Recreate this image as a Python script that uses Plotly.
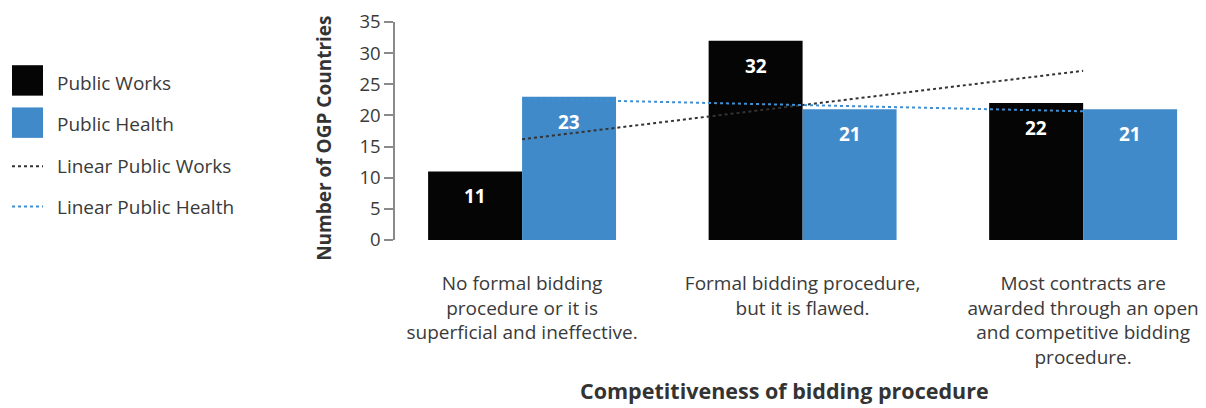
import numpy as np
import plotly.graph_objects as go

# Data
categories = [
    "No formal bidding<br>procedure or it is<br>superficial and ineffective.",
    "Formal bidding procedure,<br>but it is flawed.",
    "Most contracts are<br>awarded through an open<br>and competitive bidding<br>procedure.",
]
public_works = [11, 32, 22]
public_health = [23, 21, 21]
y_ticks = [0, 5, 10, 15, 20, 25, 30, 35]

BLACK = "#050505"
BLUE = "#418AC9"
TEXT = "#3a3a3a"
FONT = "Open Sans"
BARGAP = 0.33

x = np.arange(len(categories))

# linear trendlines (least squares, like Excel's "Linear" trendline)
works_fit = np.polyval(np.polyfit(x, public_works, 1), x)
health_fit = np.polyval(np.polyfit(x, public_health, 1), x)

fig = go.Figure()

fig.add_trace(go.Bar(
    x=x, y=public_works, name="Public Works",
    marker=dict(color=BLACK, line=dict(width=0)),
))
fig.add_trace(go.Bar(
    x=x, y=public_health, name="Public Health",
    marker=dict(color=BLUE, line=dict(width=0)),
))
fig.add_trace(go.Scatter(
    x=x, y=works_fit, mode="lines", name="Linear Public Works",
    line=dict(color="#333333", width=2, dash="dot"),
))
fig.add_trace(go.Scatter(
    x=x, y=health_fit, mode="lines", name="Linear Public Health",
    line=dict(color="#3F8FD2", width=2, dash="dot"),
))

# page has an 8px body margin, so the figure is 8px smaller than the window
OFF = 8
W, H = 1206 - OFF, 408 - OFF
L, R, T, B = 395 - OFF, 0, 18 - OFF, 408 - 240


def px(xp):
    # page pixel -> paper x
    return (xp - OFF - L) / (W - L - R)


def py(yp):
    # page pixel -> paper y
    return 1 - (yp - OFF - T) / (H - T - B)


# hand-made legend on the left
shapes = [
    dict(type="rect", xref="paper", yref="paper", x0=px(12), x1=px(43),
         y0=py(93), y1=py(62), fillcolor=BLACK, line=dict(width=0)),
    dict(type="rect", xref="paper", yref="paper", x0=px(12), x1=px(43),
         y0=py(136), y1=py(105), fillcolor=BLUE, line=dict(width=0)),
    dict(type="line", xref="paper", yref="paper", x0=px(12), x1=px(43),
         y0=py(165), y1=py(165), line=dict(color="#333333", width=2, dash="dot")),
    dict(type="line", xref="paper", yref="paper", x0=px(12), x1=px(43),
         y0=py(206), y1=py(206), line=dict(color="#3F8FD2", width=2, dash="dot")),
]
legend_labels = ["Public Works", "Public Health", "Linear Public Works", "Linear Public Health"]
legend_y = [80, 122, 165, 206]
annotations = [
    dict(text=t, xref="paper", yref="paper", x=px(55), y=py(yy),
         xanchor="left", yanchor="middle", showarrow=False,
         font=dict(family=FONT, size=19, color=TEXT))
    for t, yy in zip(legend_labels, legend_y)
]

# axis titles as annotations so they sit where the reference puts them
annotations.append(dict(
    text="<b>Number of OGP Countries</b>", xref="paper", yref="paper",
    x=px(324), y=py(137), textangle=-90, showarrow=False,
    xanchor="center", yanchor="middle",
    font=dict(family=FONT, size=19, color="#333333"),
))
annotations.append(dict(
    text="<b>Competitiveness of bidding procedure</b>", xref="paper", yref="paper",
    x=px(784), y=py(393), showarrow=False, xanchor="center", yanchor="middle",
    font=dict(family=FONT, size=21.5, color="#333333"),
))

# value labels just inside the top of each bar
half = (1 - BARGAP) / 4
for series, shift in ((public_works, -half), (public_health, half)):
    for xi, v in zip(x, series):
        annotations.append(dict(
            text=f"<b>{v}</b>", x=xi + shift, y=v, xref="x", yref="y",
            yshift=-25, showarrow=False, xanchor="center", yanchor="middle",
            font=dict(family=FONT, size=19, color="white"),
        ))

fig.update_layout(
    width=W, height=H,
    margin=dict(l=L, r=R, t=T, b=B),
    paper_bgcolor="white", plot_bgcolor="white",
    barmode="group", bargap=BARGAP, bargroupgap=0,
    showlegend=False,
    shapes=shapes, annotations=annotations,
    font=dict(family=FONT, color=TEXT),
    xaxis=dict(
        range=[-0.453, 2.438],
        tickmode="array", tickvals=x, ticktext=categories,
        tickfont=dict(family=FONT, size=19, color=TEXT),
        showgrid=False, zeroline=False, showline=False,
        ticks="outside", ticklen=26, tickcolor="rgba(0,0,0,0)",
    ),
    yaxis=dict(
        range=[0, 35],
        tickmode="array", tickvals=y_ticks,
        tickfont=dict(family=FONT, size=18.5, color=TEXT),
        ticklabeloverflow="allow",
        showgrid=False, zeroline=False,
        showline=True, linecolor="#8a8a8a", linewidth=1.5,
        ticks="outside", ticklen=9, tickcolor="#8a8a8a", tickwidth=1.5,
    ),
)

fig.write_html("out.html")
